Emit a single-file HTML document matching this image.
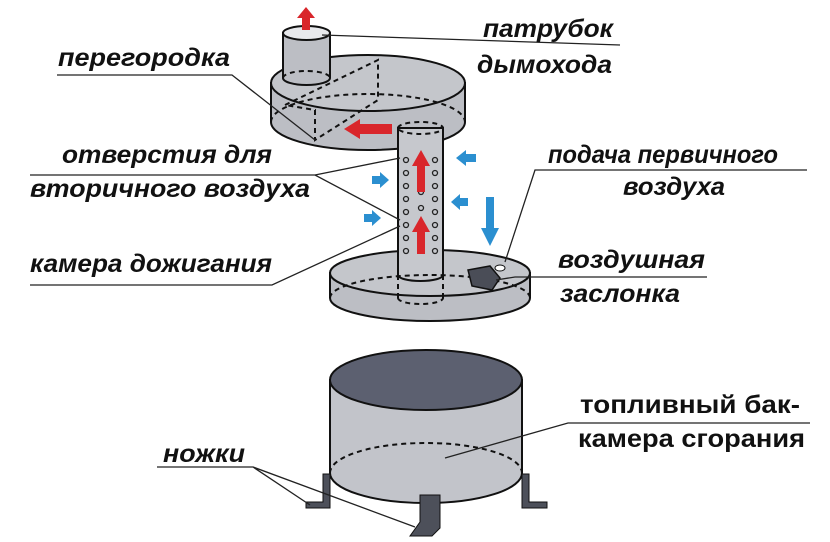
<!DOCTYPE html>
<html><head><meta charset="utf-8"><style>
html,body{margin:0;padding:0;background:#fff;}
svg{display:block}
text{font-family:"Liberation Sans","DejaVu Sans",sans-serif;font-weight:bold;font-style:italic;font-size:25px;fill:#111;}
</style></head><body>
<svg width="830" height="542" viewBox="0 0 830 542" xmlns="http://www.w3.org/2000/svg">
<g stroke="#111" stroke-width="2" fill="#bcbec4">
<path d="M271,83 L271,122 A97,28 0 0 0 465,122 L465,83 Z"/>
<ellipse cx="368" cy="83" rx="97" ry="28" fill="#c4c6cb"/>
<path d="M283,33 L283,78 A23.5,7 0 0 0 330,78 L330,33 Z"/>
<ellipse cx="306.5" cy="33" rx="23.5" ry="7" fill="#e8e9ec"/>
<path d="M330,273 L330,298 A100,23 0 0 0 530,298 L530,273 Z"/>
<ellipse cx="430" cy="273" rx="100" ry="23" fill="#c4c6cb"/>
<path d="M398,128 L398,275 A22.5,6 0 0 0 443,275 L443,128 Z" fill="#c6c8cd"/>
<path d="M330,380 L330,473 A96,30 0 0 0 522,473 L522,380 Z" fill="#c2c4ca"/>
<ellipse cx="426" cy="380" rx="96" ry="30" fill="#5c6070"/>
</g>
<g stroke="#111" stroke-width="2" fill="none" stroke-dasharray="5,4">
<path d="M271,122 A97,28 0 0 1 465,122"/>
<path d="M283,78 A23.5,7 0 0 1 330,78"/>
<path d="M398,128 A22.5,6 0 0 1 443,128 A22.5,6 0 0 1 398,128"/>
<path d="M285,105 L378,60 L378,100 L315,140 L315,110 L285,105"/>
<path d="M330,298 A100,23 0 0 1 530,298"/>
<path d="M398,275 L398,298 M443,275 L443,298 M398,298 A22.5,6 0 0 0 443,298"/>
<path d="M330,473 A96,30 0 0 1 522,473"/>
</g>
<g fill="none" stroke="#222" stroke-width="1.3">
<circle cx="406" cy="160" r="2.5"/><circle cx="406" cy="173" r="2.5"/><circle cx="406" cy="186" r="2.5"/><circle cx="406" cy="199" r="2.5"/><circle cx="406" cy="212" r="2.5"/><circle cx="406" cy="225" r="2.5"/><circle cx="406" cy="238" r="2.5"/><circle cx="406" cy="251" r="2.5"/>
<circle cx="435" cy="160" r="2.5"/><circle cx="435" cy="173" r="2.5"/><circle cx="435" cy="186" r="2.5"/><circle cx="435" cy="199" r="2.5"/><circle cx="435" cy="212" r="2.5"/><circle cx="435" cy="225" r="2.5"/><circle cx="435" cy="238" r="2.5"/><circle cx="435" cy="251" r="2.5"/>
<circle cx="421" cy="192" r="2.5"/><circle cx="421" cy="208" r="2.5"/>
</g>
<path d="M468,270 L490,266 L500,278 L492,290 L472,286 Z" fill="#4a4d57" stroke="#111" stroke-width="1.5"/>
<ellipse cx="500" cy="268" rx="5" ry="3" fill="#fff" stroke="#111" stroke-width="1"/>
<g fill="#4d505a" stroke="#111" stroke-width="1">
<path d="M323,474 L330,474 L330,508 L306,508 L306,502 L323,502 Z"/>
<path d="M522,474 L529,474 L529,502 L547,502 L547,508 L522,508 Z"/>
<path d="M420,495 L440,495 L440,528 L432,536 L410,536 L420,522 Z"/>
</g>
<g fill="#d9262b">
<path d="M302,30 L302,18 L297,18 L306,7 L315,18 L310,18 L310,30 Z"/>
<path d="M392,124 L360,124 L360,119 L344,129 L360,139 L360,134 L392,134 Z"/>
<path d="M417,192 L417,166 L412,166 L421,150 L430,166 L425,166 L425,192 Z"/>
<path d="M417,254 L417,232 L412,232 L421,216 L430,232 L425,232 L425,254 Z"/>
</g>
<g fill="#2b8fd0">
<path d="M476,154 L466,154 L466,150 L456,158 L466,166 L466,162 L476,162 Z"/>
<path d="M468,198 L460,198 L460,194 L451,202 L460,210 L460,206 L468,206 Z"/>
<path d="M372,176 L380,176 L380,172 L389,180 L380,188 L380,184 L372,184 Z"/>
<path d="M364,214 L372,214 L372,210 L381,218 L372,226 L372,222 L364,222 Z"/>
<path d="M486,197 L494,197 L494,228 L499,228 L490,246 L481,228 L486,228 Z"/>
</g>
<g stroke="#222" stroke-width="1.3" fill="none">
<path d="M322,35 L620,45"/>
<path d="M57,75 L232,75 L315,140"/>
<path d="M30,175 L315,175 L400,220 M315,175 L400,158"/>
<path d="M30,285 L272,285 L400,226"/>
<path d="M807,170 L535,170 L505,262"/>
<path d="M707,277 L515,277 L496,280"/>
<path d="M810,423 L568,423 L445,458"/>
<path d="M157,467 L253,467 L310,505 M253,467 L415,527"/>
</g>
<g>
<text x="483" y="37" textLength="130" lengthAdjust="spacingAndGlyphs">патрубок</text>
<text x="477" y="73" textLength="135" lengthAdjust="spacingAndGlyphs">дымохода</text>
<text x="58" y="66" textLength="172" lengthAdjust="spacingAndGlyphs">перегородка</text>
<text x="62" y="163" textLength="210" lengthAdjust="spacingAndGlyphs">отверстия для</text>
<text x="30" y="197" textLength="280" lengthAdjust="spacingAndGlyphs">вторичного воздуха</text>
<text x="30" y="272" textLength="242" lengthAdjust="spacingAndGlyphs">камера дожигания</text>
<text x="548" y="163" textLength="230" lengthAdjust="spacingAndGlyphs">подача первичного</text>
<text x="623" y="195" textLength="102" lengthAdjust="spacingAndGlyphs">воздуха</text>
<text x="558" y="268" textLength="147" lengthAdjust="spacingAndGlyphs">воздушная</text>
<text x="560" y="302" textLength="120" lengthAdjust="spacingAndGlyphs">заслонка</text>
<text x="580" y="413" textLength="220" lengthAdjust="spacingAndGlyphs" style="font-style:normal">топливный бак-</text>
<text x="578" y="447" textLength="227" lengthAdjust="spacingAndGlyphs" style="font-style:normal">камера сгорания</text>
<text x="163" y="462" textLength="82" lengthAdjust="spacingAndGlyphs">ножки</text>
</g>
</svg>
</body></html>
